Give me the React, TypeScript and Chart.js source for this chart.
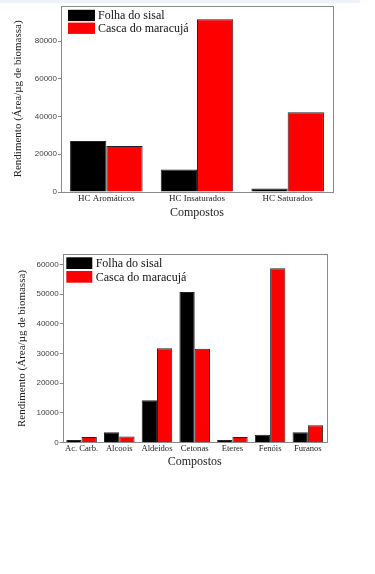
import React, { useEffect, useRef } from 'react';
import { Chart, registerables } from 'chart.js';

Chart.register(...registerables);

// ---------- data ----------
const seriesNames = ['Folha do sisal', 'Casca do maracujá'];
const seriesColors = ['#000000', '#ff0000'];

const hcCategories = ['HC Aromáticos', 'HC Insaturados', 'HC Saturados'];
const hcFolha = [27000, 11900, 1900];
const hcCasca = [24400, 91600, 42300];
const hcTicks = [0, 20000, 40000, 60000, 80000];

const grpCategories = ['Ac. Carb.', 'Alcoois', 'Aldeidos', 'Cetonas', 'Eteres', 'Fenóis', 'Furanos'];
const grpFolha = [900, 3500, 14300, 50700, 900, 2700, 3500];
const grpCasca = [1900, 2100, 31800, 31600, 1900, 58700, 5900];
const grpTicks = [0, 10000, 20000, 30000, 40000, 50000, 60000];

const yTitle = 'Rendimento (Área/µg de biomassa)';
const xTitle = 'Compostos';

// ---------- layout params ----------
interface Layout {
  width: number;
  height: number;
  yMax: number;
  yAxisWidth: number;
  xAxisHeight: number;
  padRight: number;
  padTop: number;
  yTitlePad: number;
  xTitlePad: number;
  xTickSize: number;
  catPct: number;
  legX: number;
  legY: number;
  legW: number;
  legH: number;
  legGap: number;
  legTextGap: number;
  legFont: number;
}

const frameLegendPlugin = {
  id: 'frameLegend',
  afterDraw(chart: any, _args: any, opts: any) {
    const { ctx, chartArea } = chart;
    const { left, top, right, bottom } = chartArea;
    ctx.save();
    // frame
    ctx.strokeStyle = '#8a8a8a';
    ctx.lineWidth = 1;
    ctx.strokeRect(Math.round(left) + 0.5, Math.round(top) + 0.5, Math.round(right - left), Math.round(bottom - top));
    // legend
    const ds = chart.data.datasets;
    ctx.font = opts.legFont + 'px "Liberation Serif", "Times New Roman", serif';
    ctx.textBaseline = 'middle';
    ctx.textAlign = 'left';
    ds.forEach((d: any, i: number) => {
      const x = left + opts.legX;
      const y = top + opts.legY + i * (opts.legH + opts.legGap);
      ctx.fillStyle = d.backgroundColor;
      ctx.fillRect(x, y, opts.legW, opts.legH);
      ctx.fillStyle = '#111';
      ctx.fillText(d.label, x + opts.legW + opts.legTextGap, y + opts.legH / 2 + 0.5);
    });
    ctx.restore();
  },
};

function makeConfig(cats: string[], a: number[], b: number[], ticks: number[], L: Layout): any {
  return {
    type: 'bar',
    data: {
      labels: cats,
      datasets: [
        { label: seriesNames[0], data: a, backgroundColor: seriesColors[0], borderColor: '#222', borderWidth: 1 },
        { label: seriesNames[1], data: b, backgroundColor: seriesColors[1], borderColor: '#222', borderWidth: 1 },
      ],
    },
    options: {
      responsive: false,
      animation: false,
      layout: { padding: { left: 0, right: L.padRight, top: L.padTop, bottom: 0 } },
      datasets: { bar: { categoryPercentage: L.catPct, barPercentage: 1.0 } },
      plugins: {
        legend: { display: false },
        tooltip: { enabled: false },
        frameLegend: {
          legX: L.legX, legY: L.legY, legW: L.legW, legH: L.legH, legGap: L.legGap, legTextGap: L.legTextGap,
          legFont: L.legFont,
        },
      },
      scales: {
        x: {
          grid: { display: false, drawTicks: false },
          border: { display: false },
          ticks: {
            padding: 1,
            maxRotation: 0,
            autoSkip: false,
            color: '#222',
            font: { family: '"Liberation Serif", "Times New Roman", serif', size: L.xTickSize },
          },
          title: {
            display: true,
            text: xTitle,
            color: '#222',
            padding: { top: 0, bottom: L.xTitlePad },
            font: { family: '"Liberation Serif", "Times New Roman", serif', size: 12 },
          },
          afterFit(scale: any) {
            scale.height = L.xAxisHeight;
          },
        },
        y: {
          min: 0,
          max: L.yMax,
          grid: { display: true, drawOnChartArea: false, drawTicks: true, tickLength: 3, color: '#8a8a8a' },
          border: { display: false },
          ticks: {
            padding: 1,
            autoSkip: false,
            color: '#444',
            font: { family: '"Liberation Sans", Arial, sans-serif', size: 8 },
            callback: (v: any) => String(v),
          },
          afterBuildTicks(scale: any) {
            scale.ticks = ticks.map((v) => ({ value: v }));
          },
          title: {
            display: true,
            text: yTitle,
            color: '#222',
            padding: { top: L.yTitlePad, bottom: 0 },
            font: { family: '"Liberation Serif", "Times New Roman", serif', size: 11 },
          },
          afterFit(scale: any) {
            scale.width = L.yAxisWidth;
          },
        },
      },
    },
    plugins: [frameLegendPlugin],
  };
}

const layout1: Layout = {
  width: 375, height: 225, yMax: 98700, yAxisWidth: 61, xAxisHeight: 33, padRight: 42, padTop: 5,
  yTitlePad: 11.7, xTitlePad: 5, xTickSize: 9, catPct: 0.8,
  legX: 7, legY: 4, legW: 27, legH: 11.3, legGap: 1.5, legTextGap: 3, legFont: 12,
};

const layout2: Layout = {
  width: 375, height: 230, yMax: 63400, yAxisWidth: 62.7, xAxisHeight: 32.3, padRight: 48.3, padTop: 9.3,
  yTitlePad: 15.1, xTitlePad: 6, xTickSize: 8.6, catPct: 0.81,
  legX: 3.6, legY: 3, legW: 26, legH: 11.7, legGap: 2, legTextGap: 3.4, legFont: 12,
};

function BarChart(props: { cats: string[]; a: number[]; b: number[]; ticks: number[]; L: Layout; top: number }) {
  const ref = useRef<HTMLCanvasElement | null>(null);
  useEffect(() => {
    if (!ref.current) return;
    const chart = new Chart(ref.current, makeConfig(props.cats, props.a, props.b, props.ticks, props.L));
    return () => chart.destroy();
  }, []);
  return (
    <canvas
      ref={ref}
      width={props.L.width}
      height={props.L.height}
      style={{ position: 'absolute', left: 0, top: props.top, width: props.L.width, height: props.L.height }}
    />
  );
}

export default function App() {
  return (
    <div style={{ position: 'absolute', left: 0, top: 0, width: 375, height: 574, background: '#fff', overflow: 'hidden' }}>
      <div style={{ position: 'absolute', left: 0, top: 0, width: 360, height: 3, background: '#eef2f9' }} />
      <BarChart cats={hcCategories} a={hcFolha} b={hcCasca} ticks={hcTicks} L={layout1} top={0} />
      <BarChart cats={grpCategories} a={grpFolha} b={grpCasca} ticks={grpTicks} L={layout2} top={245} />
    </div>
  );
}
